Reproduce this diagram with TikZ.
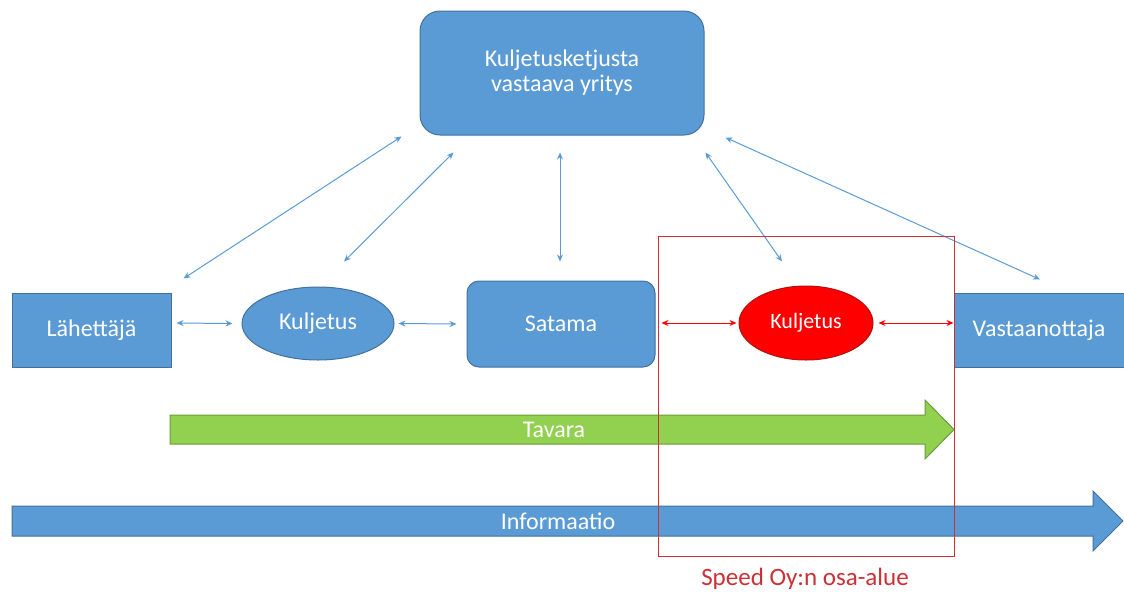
\documentclass[tikz,border=0pt]{standalone}
\usepackage{fontspec}
\setmainfont{Carlito}
\usetikzlibrary{arrows.meta,shapes.geometric}
\definecolor{offblue}{HTML}{5B9BD5}
\definecolor{offblueline}{HTML}{41719C}
\definecolor{offgreen}{HTML}{92D050}
\definecolor{offgreenline}{HTML}{6A9C3A}
\definecolor{offred}{HTML}{FF0000}
\definecolor{offredline}{HTML}{B01010}
\definecolor{framered}{HTML}{CC3035}

\begin{document}
\begin{tikzpicture}[x=1pt,y=-1pt,
	every node/.style={font=\fontsize{24}{25}\selectfont, text=white, inner sep=0pt},
	box/.style={draw=offblueline, fill=offblue, line width=1pt},
	oval/.style={ellipse, draw=offblueline, fill=offblue, line width=1pt},
	link/.style={draw=offblue, line width=1pt, {Stealth[length=7pt,width=6pt]}-{Stealth[length=7pt,width=6pt]}},
	redlink/.style={link, draw=offred}]
	\useasboundingbox (0,0) rectangle (1124,592);
	% nodes of the chain
	\node [box, rounded corners=20pt, minimum width=284, minimum height=124, align=center] (firm) at (562,73) {Kuljetusketjusta\\vastaava yritys};
	\node [box, minimum width=159, minimum height=74] (sender) at (91.5,330) {Lähettäjä};
	\node [oval, minimum width=152, minimum height=73] (trans1) at (318,323.5) {Kuljetus};
	\node [box, rounded corners=12pt, minimum width=188, minimum height=86] (port) at (561,324) {Satama};
	\node [oval, fill=offred, draw=offredline, minimum width=134, minimum height=74, font=\fontsize{22}{26}\selectfont] (trans2) at (806,323) {Kuljetus};
	\node [box, minimum width=170, minimum height=74] (receiver) at (1039,330) {Vastaanottaja};
	% links to the firm
	\draw [link] ([shift={(-18,1)}]firm.south west) -- ([shift={(12,-14)}]sender.north east);
	\draw [link] ([shift={(34,17)}]firm.south west) -- ([shift={(26,-25)}]trans1.north);
	\draw [link] ([shift={(-2,17)}]firm.south) -- ([shift={(-1,-19)}]port.north);
	\draw [link] ([shift={(1,17)}]firm.south east) -- ([shift={(-24,-24)}]trans2.north);
	\draw [link] ([shift={(21,2)}]firm.south east) -- ([shift={(1,-13)}]receiver.north);
	% links along the chain
	\draw [link] ([shift={(5,-7)}]sender.east) -- ([shift={(-9,0)}]trans1.west);
	\draw [link] ([shift={(4,0)}]trans1.east) -- ([shift={(-10,0)}]port.west);
	\draw [redlink] ([shift={(6,-1)}]port.east) -- ([shift={(-2,0)}]trans2.west);
	\draw [redlink] ([shift={(5,0)}]trans2.east) -- ([shift={(0,-7)}]receiver.west);
	% flows
	\draw [fill=offgreen, draw=offgreenline, line width=1pt] (170,415) -- (925,415) -- (925,400) -- (954,429.5) -- (925,459) -- (925,444) -- (170,444) -- cycle;
	\node (goods) at (554,429.5) {Tavara};
	\draw [fill=offblue, draw=offblueline, line width=1pt] (12,506) -- (1093,506) -- (1093,491) -- (1123,521) -- (1093,551) -- (1093,536) -- (12,536) -- cycle;
	\node (info) at (558,521) {Informaatio};
	% area of Speed Oy
	\draw [framered, line width=1pt] (658,236) rectangle (954,556);
	\node [text=framered, font=\fontsize{25}{28}\selectfont] (area) at (805,579) {Speed Oy:n osa-alue};
\end{tikzpicture}
\end{document}
